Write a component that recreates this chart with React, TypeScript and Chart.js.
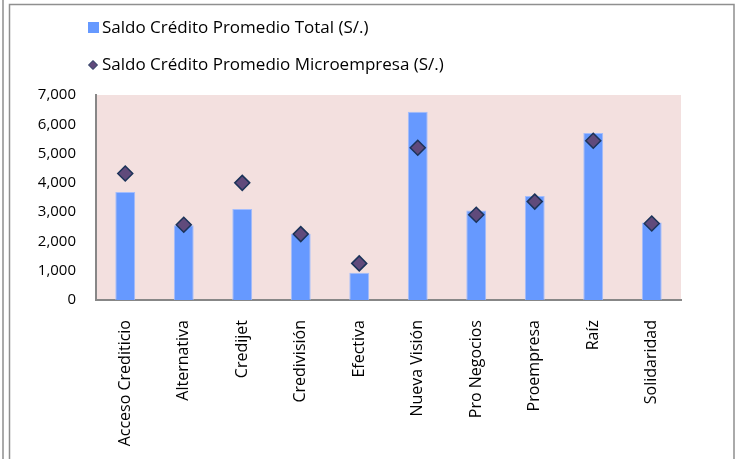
import React, { useEffect, useRef } from "react";
import { Chart, registerables } from "chart.js";

Chart.register(...registerables);

const categories = [
  "Acceso Crediticio",
  "Alternativa",
  "Credijet",
  "Credivisión",
  "Efectiva",
  "Nueva Visión",
  "Pro Negocios",
  "Proempresa",
  "Raíz",
  "Solidaridad",
];
const totalLabel = "Saldo Crédito Promedio Total (S/.)";
const microLabel = "Saldo Crédito Promedio Microempresa (S/.)";
const totalValues = [3690, 2550, 3110, 2260, 930, 6430, 3060, 3550, 5700, 2650];
const microValues = [4320, 2570, 4000, 2250, 1250, 5200, 2910, 3360, 5440, 2610];
const yTicks = [0, 1000, 2000, 3000, 4000, 5000, 6000, 7000];

const FONT = "'Open Sans', sans-serif";
const BAR_COLOR = "#6699ff";
const BAR_EDGE = "#a3bdfd";
const DIAMOND_FILL = "#604a7b";
const DIAMOND_EDGE = "#1b3359";
const PLOT_BG = "#f3e0df";
const AXIS_COLOR = "#878787";
const FRAME_COLOR = "#8f8f8f";

const decorPlugin = {
  id: "decor",
  beforeDraw(chart: any) {
    const { ctx, chartArea, width, height } = chart;
    ctx.save();
    ctx.fillStyle = "#ffffff";
    ctx.fillRect(0, 0, width, height);
    // frame
    ctx.strokeStyle = FRAME_COLOR;
    ctx.lineWidth = 1.5;
    ctx.beginPath();
    ctx.moveTo(3, 0);
    ctx.lineTo(3, height);
    ctx.moveTo(9.5, height);
    ctx.lineTo(9.5, 4.5);
    ctx.lineTo(734, 4.5);
    ctx.lineTo(734, height);
    ctx.stroke();
    // plot background
    ctx.fillStyle = PLOT_BG;
    ctx.fillRect(
      chartArea.left,
      chartArea.top,
      chartArea.right - chartArea.left,
      chartArea.bottom - chartArea.top
    );
    ctx.restore();
  },
  afterDraw(chart: any) {
    const { ctx } = chart;
    ctx.save();
    ctx.font = `17px ${FONT}`;
    ctx.fillStyle = "#000000";
    ctx.textBaseline = "middle";
    ctx.textAlign = "left";
    // item 1
    ctx.fillStyle = BAR_COLOR;
    ctx.fillRect(88, 22, 11, 11);
    ctx.fillStyle = "#000000";
    ctx.fillText(chart.data.datasets[1].label, 102, 28);
    // item 2
    const cx = 93, cy = 65, r = 4.5;
    ctx.beginPath();
    ctx.moveTo(cx - r, cy);
    ctx.lineTo(cx, cy - r);
    ctx.lineTo(cx + r, cy);
    ctx.lineTo(cx, cy + r);
    ctx.closePath();
    ctx.fillStyle = DIAMOND_FILL;
    ctx.fill();
    ctx.strokeStyle = DIAMOND_EDGE;
    ctx.lineWidth = 1;
    ctx.stroke();
    ctx.fillStyle = "#000000";
    ctx.fillText(chart.data.datasets[0].label, 102, 65);
    ctx.restore();
  },
};

export default function App() {
  const ref = useRef<HTMLCanvasElement>(null);
  useEffect(() => {
    document.body.style.margin = "0";
    const chart = new Chart(ref.current as HTMLCanvasElement, {
      type: "bar",
      data: {
        labels: categories,
        datasets: [
          {
            type: "line",
            label: microLabel,
            data: microValues,
            showLine: false,
            pointStyle: "rectRot",
            pointRadius: 7.5,
            pointHoverRadius: 7.5,
            pointBackgroundColor: DIAMOND_FILL,
            pointBorderColor: DIAMOND_EDGE,
            pointBorderWidth: 1.5,
            backgroundColor: DIAMOND_FILL,
            borderColor: DIAMOND_EDGE,
            order: 1,
          } as any,
          {
            type: "bar",
            label: totalLabel,
            data: totalValues,
            backgroundColor: BAR_COLOR,
            borderColor: BAR_EDGE,
            borderWidth: 1,
            categoryPercentage: 1,
            barPercentage: 0.34,
            order: 2,
          },
        ],
      },
      options: {
        responsive: false,
        animation: false,
        devicePixelRatio: 1,
        layout: { padding: { top: 95, right: 59, left: 0, bottom: 0 } },
        plugins: {
          legend: { display: false },
          tooltip: { enabled: false },
        },
        scales: {
          x: {
            grid: { display: false, drawTicks: false },
            border: { display: true, color: AXIS_COLOR, width: 2 },
            ticks: {
              color: "#000000",
              font: { family: FONT, size: 16 },
              maxRotation: 90,
              minRotation: 90,
              padding: 20,
              autoSkip: false,
            },
            afterFit(scale: any) {
              scale.height = 159;
            },
          },
          y: {
            min: 0,
            max: 7000,
            afterBuildTicks(scale: any) {
              scale.ticks = yTicks.map((v) => ({ value: v }));
            },
            grid: { display: false, drawTicks: false },
            border: { display: true, color: AXIS_COLOR, width: 2 },
            ticks: {
              color: "#000000",
              font: { family: FONT, size: 15 },
              padding: 20,
              callback: (v: any) => Number(v).toLocaleString("en-US"),
            },
            afterFit(scale: any) {
              scale.width = 96;
            },
          },
        },
      },
      plugins: [decorPlugin],
    });
    return () => chart.destroy();
  }, []);
  return (
    <div style={{ width: 740, height: 459 }}>
      <canvas ref={ref} width={740} height={459} style={{ display: "block" }} />
    </div>
  );
}
